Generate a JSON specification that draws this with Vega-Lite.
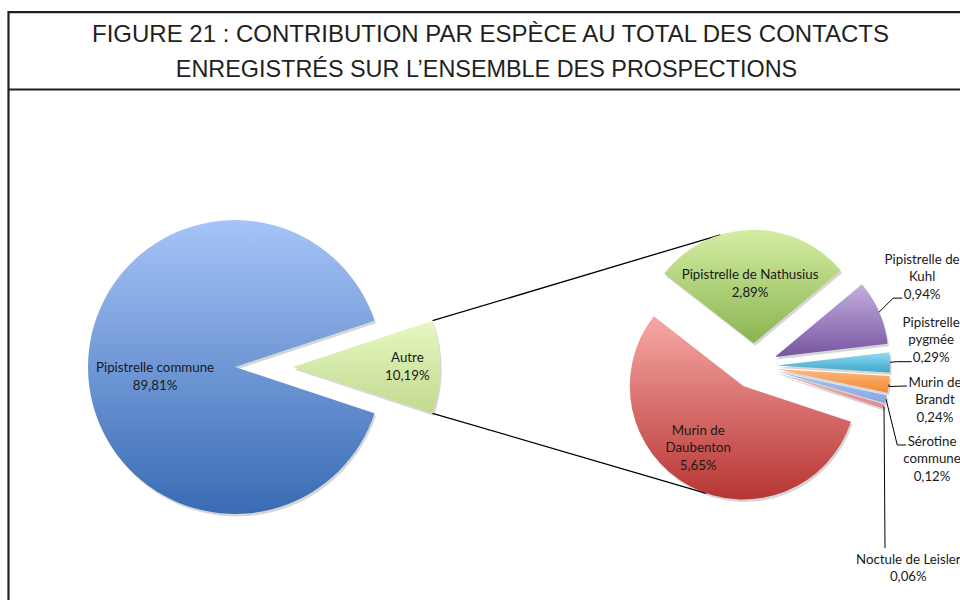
{
  "$schema": "https://vega.github.io/schema/vega-lite/v6.json",
  "width": 960,
  "height": 600,
  "autosize": {"type": "none"},
  "padding": 0,
  "background": "#ffffff",
  "config": {"view": {"stroke": null}},
  "datasets": {
    "slices": [
      {"pie": "main", "ord": 1, "name": "Autre", "pct": 10.19, "label": "Autre\n10,19%"},
      {"pie": "main", "ord": 2, "name": "Pipistrelle commune", "pct": 89.81, "label": "Pipistrelle commune\n89,81%"},
      {"pie": "sec", "ord": 1, "name": "Pipistrelle de Nathusius", "pct": 2.89, "label": "Pipistrelle de Nathusius\n2,89%"},
      {"pie": "sec", "ord": 2, "name": "Pipistrelle de Kuhl", "pct": 0.94, "label": "Pipistrelle de\nKuhl\n0,94%"},
      {"pie": "sec", "ord": 3, "name": "Pipistrelle pygmée", "pct": 0.29, "label": "Pipistrelle\npygmée\n0,29%"},
      {"pie": "sec", "ord": 4, "name": "Murin de Brandt", "pct": 0.24, "label": "Murin de\nBrandt\n0,24%"},
      {"pie": "sec", "ord": 5, "name": "Sérotine commune", "pct": 0.12, "label": "Sérotine\ncommune\n0,12%"},
      {"pie": "sec", "ord": 6, "name": "Noctule de Leisler", "pct": 0.06, "label": "Noctule de Leisler\n0,06%"},
      {"pie": "sec", "ord": 7, "name": "Murin de Daubenton", "pct": 5.65, "label": "Murin de\nDaubenton\n5,65%"}
    ]
  },
  "layer": [
    {
      "data": {"values": [{}]},
      "layer": [
        {
          "mark": {"type": "rule", "stroke": "#231f20", "strokeWidth": 2.2},
          "encoding": {
            "x": {"datum": 8, "type": "quantitative", "scale": {"domain": [0, 960], "nice": false, "zero": false}, "axis": null},
            "x2": {"datum": 962},
            "y": {"datum": 12.2, "type": "quantitative", "scale": {"domain": [0, 600], "nice": false, "zero": false, "reverse": true}, "axis": null}
          }
        },
        {
          "mark": {"type": "rule", "stroke": "#231f20", "strokeWidth": 2.2},
          "encoding": {
            "x": {"datum": 8, "type": "quantitative", "scale": {"domain": [0, 960], "nice": false, "zero": false}, "axis": null},
            "x2": {"datum": 962},
            "y": {"datum": 89.5, "type": "quantitative", "scale": {"domain": [0, 600], "nice": false, "zero": false, "reverse": true}, "axis": null}
          }
        },
        {
          "mark": {"type": "rule", "stroke": "#231f20", "strokeWidth": 2.2},
          "encoding": {
            "x": {"datum": 8.5, "type": "quantitative", "scale": {"domain": [0, 960], "nice": false, "zero": false}, "axis": null},
            "y": {"datum": 11.1, "type": "quantitative", "scale": {"domain": [0, 600], "nice": false, "zero": false, "reverse": true}, "axis": null},
            "y2": {"datum": 602}
          }
        },
        {
          "mark": {"type": "text", "font": "Liberation Sans", "fontSize": 24, "fill": "#231f20", "align": "center", "baseline": "alphabetic"},
          "encoding": {
            "x": {"datum": 490.5, "type": "quantitative", "scale": {"domain": [0, 960], "nice": false, "zero": false}, "axis": null},
            "y": {"datum": 42, "type": "quantitative", "scale": {"domain": [0, 600], "nice": false, "zero": false, "reverse": true}, "axis": null},
            "text": {"value": "FIGURE 21 : CONTRIBUTION PAR ESPÈCE AU TOTAL DES CONTACTS"}
          }
        },
        {
          "mark": {"type": "text", "font": "Liberation Sans", "fontSize": 23.4, "fill": "#231f20", "align": "center", "baseline": "alphabetic"},
          "encoding": {
            "x": {"datum": 486.5, "type": "quantitative", "scale": {"domain": [0, 960], "nice": false, "zero": false}, "axis": null},
            "y": {"datum": 76.5, "type": "quantitative", "scale": {"domain": [0, 600], "nice": false, "zero": false, "reverse": true}, "axis": null},
            "text": {"value": "ENREGISTRÉS SUR L’ENSEMBLE DES PROSPECTIONS"}
          }
        }
      ]
    },
    {
      "data": {"name": "slices"},
      "transform": [
        {"joinaggregate": [{"op": "sum", "field": "pct", "as": "tot"}], "groupby": ["pie"]},
        {"window": [{"op": "sum", "field": "pct", "as": "cum"}], "sort": [{"field": "ord", "order": "ascending"}], "groupby": ["pie"], "frame": [null, 0]},
        {"calculate": "datum.pie === 'main' ? 71.66 : -52", "as": "start"},
        {"calculate": "(datum.start + 360 * (datum.cum - datum.pct) / datum.tot) * PI / 180", "as": "a0r"},
        {"calculate": "(datum.start + 360 * datum.cum / datum.tot) * PI / 180", "as": "a1r"},
        {"calculate": "(datum.a0r + datum.a1r) / 2", "as": "mid"},
        {"calculate": "datum.pie === 'sec' ? 22.7 : (datum.name === 'Autre' ? 58 : 0)", "as": "ex"},
        {"calculate": "datum.pie === 'main' ? 147 : 113.5", "as": "R"},
        {"calculate": "(datum.pie === 'main' ? 235 : 754) + datum.ex * sin(datum.mid)", "as": "cx"},
        {"calculate": "(datum.pie === 'main' ? 367 : 366) - datum.ex * cos(datum.mid)", "as": "cy"},
        {"calculate": "datum.cx + 1.5", "as": "sx"},
        {"calculate": "datum.cy + 2.5", "as": "sy"},
        {"calculate": "datum.cx + datum.R * sin(datum.mid)", "as": "ax"},
        {"calculate": "datum.cy - datum.R * cos(datum.mid)", "as": "ay"},
        {"calculate": "(length(split(datum.label, '\\n')) - 1) * 17.5 / 2", "as": "lshift"},
        {"calculate": "datum.name === 'Autre' ? datum.cx + datum.R * sin(datum.a0r) : null", "as": "utx0"},
        {"calculate": "datum.name === 'Autre' ? datum.cy - datum.R * cos(datum.a0r) : null", "as": "uty0"},
        {"calculate": "datum.name === 'Autre' ? datum.cx + datum.R * sin(datum.a1r) : null", "as": "ubx0"},
        {"calculate": "datum.name === 'Autre' ? datum.cy - datum.R * cos(datum.a1r) : null", "as": "uby0"},
        {"joinaggregate": [
          {"op": "max", "field": "utx0", "as": "utx"},
          {"op": "max", "field": "uty0", "as": "uty"},
          {"op": "max", "field": "ubx0", "as": "ubx"},
          {"op": "max", "field": "uby0", "as": "uby"}
        ]}
      ],
      "layer": [
        {
          "layer": [
            {
              "transform": [
                {"filter": "datum.name === 'Pipistrelle de Nathusius'"},
                {"calculate": "datum.cx + datum.R * sin(-17 * PI / 180)", "as": "kx"},
                {"calculate": "datum.cy - datum.R * cos(-17 * PI / 180)", "as": "ky"}
              ],
              "mark": {"type": "rule", "stroke": "#000000", "strokeWidth": 1.3},
              "encoding": {
                "x": {"field": "utx", "type": "quantitative", "scale": {"domain": [0, 960], "nice": false, "zero": false}, "axis": null},
                "y": {"field": "uty", "type": "quantitative", "scale": {"domain": [0, 600], "nice": false, "zero": false, "reverse": true}, "axis": null},
                "x2": {"field": "kx"},
                "y2": {"field": "ky"}
              }
            },
            {
              "transform": [
                {"filter": "datum.name === 'Murin de Daubenton'"},
                {"calculate": "datum.cx + datum.R * sin(199 * PI / 180)", "as": "kx"},
                {"calculate": "datum.cy - datum.R * cos(199 * PI / 180)", "as": "ky"}
              ],
              "mark": {"type": "rule", "stroke": "#000000", "strokeWidth": 1.3},
              "encoding": {
                "x": {"field": "ubx", "type": "quantitative", "scale": {"domain": [0, 960], "nice": false, "zero": false}, "axis": null},
                "y": {"field": "uby", "type": "quantitative", "scale": {"domain": [0, 600], "nice": false, "zero": false, "reverse": true}, "axis": null},
                "x2": {"field": "kx"},
                "y2": {"field": "ky"}
              }
            }
          ]
        },
        {
          "encoding": {
            "x": {"field": "cx", "type": "quantitative", "scale": {"domain": [0, 960], "nice": false, "zero": false}, "axis": null},
            "y": {"field": "cy", "type": "quantitative", "scale": {"domain": [0, 600], "nice": false, "zero": false, "reverse": true}, "axis": null},
            "theta": {"field": "a0r", "type": "quantitative", "scale": null, "stack": null},
            "theta2": {"field": "a1r"},
            "radius": {"field": "R", "type": "quantitative", "scale": null}
          },
          "layer": [
            {
              "mark": {"type": "arc", "fill": "#000000", "fillOpacity": 0.16},
              "encoding": {
                "x": {"field": "sx", "type": "quantitative", "scale": {"domain": [0, 960], "nice": false, "zero": false}, "axis": null},
                "y": {"field": "sy", "type": "quantitative", "scale": {"domain": [0, 600], "nice": false, "zero": false, "reverse": true}, "axis": null}
              }
            },
            {"transform": [{"filter": "datum.name === 'Pipistrelle commune'"}], "mark": {"type": "arc", "fill": {"gradient": "linear", "x1": 0, "y1": 0, "x2": 0, "y2": 1, "stops": [{"offset": 0, "color": "#a6c4f7"}, {"offset": 1, "color": "#396bb3"}]}}},
            {"transform": [{"filter": "datum.name === 'Autre'"}], "mark": {"type": "arc", "fill": {"gradient": "linear", "x1": 0, "y1": 0, "x2": 0, "y2": 1, "stops": [{"offset": 0, "color": "#e6f8c0"}, {"offset": 1, "color": "#c2d98f"}]}}},
            {"transform": [{"filter": "datum.name === 'Pipistrelle de Nathusius'"}], "mark": {"type": "arc", "fill": {"gradient": "linear", "x1": 0, "y1": 0, "x2": 0, "y2": 1, "stops": [{"offset": 0, "color": "#d4eda2"}, {"offset": 1, "color": "#8ab451"}]}}},
            {"transform": [{"filter": "datum.name === 'Pipistrelle de Kuhl'"}], "mark": {"type": "arc", "fill": {"gradient": "linear", "x1": 0, "y1": 0, "x2": 0, "y2": 1, "stops": [{"offset": 0, "color": "#c4aedf"}, {"offset": 1, "color": "#7755a1"}]}}},
            {"transform": [{"filter": "datum.name === 'Pipistrelle pygmée'"}], "mark": {"type": "arc", "fill": {"gradient": "linear", "x1": 0, "y1": 0, "x2": 0, "y2": 1, "stops": [{"offset": 0, "color": "#93dcf3"}, {"offset": 1, "color": "#3ea7ca"}]}}},
            {"transform": [{"filter": "datum.name === 'Murin de Brandt'"}], "mark": {"type": "arc", "fill": {"gradient": "linear", "x1": 0, "y1": 0, "x2": 0, "y2": 1, "stops": [{"offset": 0, "color": "#fdb87d"}, {"offset": 1, "color": "#f28a30"}]}}},
            {"transform": [{"filter": "datum.name === 'Sérotine commune'"}], "mark": {"type": "arc", "fill": {"gradient": "linear", "x1": 0, "y1": 0, "x2": 0, "y2": 1, "stops": [{"offset": 0, "color": "#abc4f1"}, {"offset": 1, "color": "#88a6e1"}]}}},
            {"transform": [{"filter": "datum.name === 'Noctule de Leisler'"}], "mark": {"type": "arc", "fill": {"gradient": "linear", "x1": 0, "y1": 0, "x2": 0, "y2": 1, "stops": [{"offset": 0, "color": "#f1b0ad"}, {"offset": 1, "color": "#df8b89"}]}}},
            {"transform": [{"filter": "datum.name === 'Murin de Daubenton'"}], "mark": {"type": "arc", "fill": {"gradient": "linear", "x1": 0, "y1": 0, "x2": 0, "y2": 1, "stops": [{"offset": 0, "color": "#f7a8a5"}, {"offset": 1, "color": "#b73533"}]}}}
          ]
        },
        {
          "transform": [
            {"filter": "datum.name === 'Pipistrelle commune' || datum.name === 'Autre' || datum.name === 'Pipistrelle de Nathusius' || datum.name === 'Murin de Daubenton'"},
            {"calculate": "datum.name === 'Pipistrelle commune' ? 0.548 : datum.name === 'Autre' ? 0.778 : datum.name === 'Pipistrelle de Nathusius' ? 0.523 : 0.677", "as": "lk"},
            {"calculate": "(datum.name === 'Pipistrelle commune' ? -7.1 : datum.name === 'Autre' ? 0 : datum.name === 'Pipistrelle de Nathusius' ? -2.5 : 7.7) * PI / 180", "as": "lsh"},
            {"calculate": "datum.cx + datum.lk * datum.R * sin(datum.mid + datum.lsh)", "as": "lx"},
            {"calculate": "datum.cy - datum.lk * datum.R * cos(datum.mid + datum.lsh) - datum.lshift", "as": "ly"}
          ],
          "mark": {"type": "text", "font": "Lato", "fontSize": 13.3, "lineHeight": 17.5, "lineBreak": "\n", "align": "center", "baseline": "middle", "fill": "#1a1a1a"},
          "encoding": {
            "x": {"field": "lx", "type": "quantitative", "scale": {"domain": [0, 960], "nice": false, "zero": false}, "axis": null},
            "y": {"field": "ly", "type": "quantitative", "scale": {"domain": [0, 600], "nice": false, "zero": false, "reverse": true}, "axis": null},
            "text": {"field": "label"}
          }
        },
        {
          "transform": [
            {"filter": "datum.pie === 'sec' && datum.name !== 'Pipistrelle de Nathusius' && datum.name !== 'Murin de Daubenton'"},
            {"calculate": "datum.name === 'Pipistrelle de Kuhl' ? 14 : datum.name === 'Pipistrelle pygmée' ? 6.5 : datum.name === 'Murin de Brandt' ? 0 : datum.name === 'Sérotine commune' ? 11.2 : 1", "as": "e1x"},
            {"calculate": "datum.name === 'Pipistrelle de Kuhl' ? -14 : datum.name === 'Pipistrelle pygmée' ? -0.6 : datum.name === 'Murin de Brandt' ? 2 : datum.name === 'Sérotine commune' ? 45.7 : 141.4", "as": "e1y"},
            {"calculate": "datum.name === 'Pipistrelle de Kuhl' ? 23 : datum.name === 'Pipistrelle pygmée' ? 21.5 : datum.name === 'Murin de Brandt' ? 18 : datum.name === 'Sérotine commune' ? 20 : 1", "as": "e2x"},
            {"calculate": "datum.name === 'Pipistrelle de Kuhl' ? -14 : datum.name === 'Pipistrelle pygmée' ? -0.6 : datum.name === 'Murin de Brandt' ? 1.5 : datum.name === 'Sérotine commune' ? 45.7 : 141.4", "as": "e2y"},
            {"calculate": "datum.name === 'Pipistrelle de Kuhl' ? 43 : datum.name === 'Pipistrelle pygmée' ? 41 : datum.name === 'Murin de Brandt' ? 46 : datum.name === 'Sérotine commune' ? 46 : 24.3", "as": "tdx"},
            {"calculate": "datum.name === 'Pipistrelle de Kuhl' ? -35 : datum.name === 'Pipistrelle pygmée' ? -22 : datum.name === 'Murin de Brandt' ? 15.7 : datum.name === 'Sérotine commune' ? 60 : 161.7", "as": "tdy"},
            {"calculate": "datum.ax + datum.e1x", "as": "elx"},
            {"calculate": "datum.ay + datum.e1y", "as": "ely"},
            {"calculate": "datum.ax + datum.e2x", "as": "enx"},
            {"calculate": "datum.ay + datum.e2y", "as": "eny"},
            {"calculate": "datum.ax + datum.tdx", "as": "tx"},
            {"calculate": "datum.ay + datum.tdy - datum.lshift", "as": "ty"}
          ],
          "layer": [
            {
              "mark": {"type": "rule", "stroke": "#000000", "strokeWidth": 1},
              "encoding": {
                "x": {"field": "ax", "type": "quantitative", "scale": {"domain": [0, 960], "nice": false, "zero": false}, "axis": null},
                "y": {"field": "ay", "type": "quantitative", "scale": {"domain": [0, 600], "nice": false, "zero": false, "reverse": true}, "axis": null},
                "x2": {"field": "elx"},
                "y2": {"field": "ely"}
              }
            },
            {
              "mark": {"type": "rule", "stroke": "#000000", "strokeWidth": 1},
              "encoding": {
                "x": {"field": "elx", "type": "quantitative", "scale": {"domain": [0, 960], "nice": false, "zero": false}, "axis": null},
                "y": {"field": "ely", "type": "quantitative", "scale": {"domain": [0, 600], "nice": false, "zero": false, "reverse": true}, "axis": null},
                "x2": {"field": "enx"},
                "y2": {"field": "eny"}
              }
            },
            {
              "mark": {"type": "text", "font": "Lato", "fontSize": 13.3, "lineHeight": 17.5, "lineBreak": "\n", "align": "center", "baseline": "middle", "fill": "#1a1a1a"},
              "encoding": {
                "x": {"field": "tx", "type": "quantitative", "scale": {"domain": [0, 960], "nice": false, "zero": false}, "axis": null},
                "y": {"field": "ty", "type": "quantitative", "scale": {"domain": [0, 600], "nice": false, "zero": false, "reverse": true}, "axis": null},
                "text": {"field": "label"}
              }
            }
          ]
        }
      ]
    }
  ]
}
